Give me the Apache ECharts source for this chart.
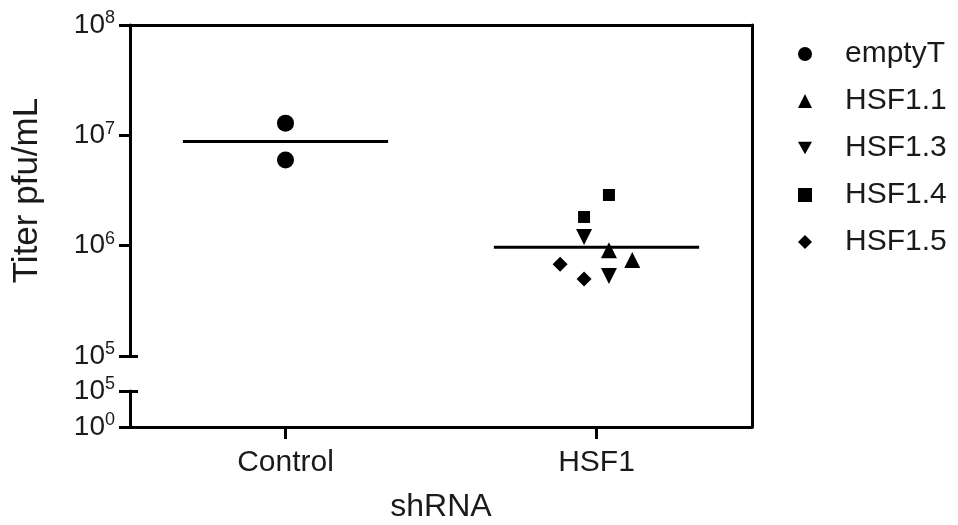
<!DOCTYPE html>
<html>
<head>
<meta charset="utf-8">
<script src="https://cdn.jsdelivr.net/npm/echarts@6/dist/echarts.min.js"></script>
<style>
html,body{margin:0;padding:0;background:#fff;}
#main{width:958px;height:525px;}
</style>
</head>
<body>
<div id="main"></div>
<script>
// categories and values
var groups = ['Control', 'HSF1'];
var emptyT = [1.29e7, 5.98e6];
var hsf11 = [9.1e5, 7.4e5];
var hsf13 = [1.2e6, 5.3e5];
var hsf14 = [2.88e6, 1.82e6];
var hsf15 = [6.8e5, 5.0e5];
var centerLine = [8.8e6, 9.7e5];   // horizontal line per group
var yTicks = [1e5, 1e6, 1e7, 1e8];
var yTicksLow = [1, 1e5];

// horizontal scatter of the points inside a group (axis units)
var jitter = {
    emptyT: [0, 0],
    hsf11: [0.04, 0.115],
    hsf13: [-0.04, 0.04],
    hsf14: [0.04, -0.04],
    hsf15: [-0.117, -0.04]
};
var lineHalf = 0.33;

var FONT = "'Liberation Sans', Arial, sans-serif";
var INK = '#1a1a1a';

function powLabel(v){
    var e = Math.round(Math.log10(v));
    return '{b|10}{s|' + e + '}';
}
var powRich = {
    b: {fontSize: 28, color: INK, fontFamily: FONT},
    s: {fontSize: 18, color: INK, fontFamily: FONT, padding: [0, 0, 13, 0]}
};

function pts(vals, jit, g){
    var out = [];
    for (var i = 0; i < vals.length; i++) out.push([g + 0.5 + jit[i], vals[i]]);
    return out;
}

var myChart = echarts.init(document.getElementById('main'));
var option = {
    animation: false,
    textStyle: {fontFamily: FONT},
    grid: [
        {left: 130, top: 25, width: 622, height: 331, outerBoundsMode: 'none'},
        {left: 130, top: 391, width: 622, height: 36, outerBoundsMode: 'none'},
        {left: 130, top: 25, width: 622, height: 402, outerBoundsMode: 'none'}
    ],
    legend: {
        orient: 'vertical',
        left: 793,
        top: 34,
        itemWidth: 14,
        itemHeight: 14,
        itemGap: 17,
        textStyle: {fontSize: 30, color: INK, fontFamily: FONT, padding: [0, 0, 0, 28]},
        data: ['emptyT', 'HSF1.1', 'HSF1.3', 'HSF1.4', 'HSF1.5']
    },
    xAxis: [
        {
            gridIndex: 0, type: 'value', min: 0, max: 2, position: 'top',
            axisLine: {show: true, onZero: false, lineStyle: {color: '#000', width: 3}},
            axisTick: {show: false}, axisLabel: {show: false}, splitLine: {show: false}
        },
        {
            gridIndex: 1, type: 'category', data: groups, position: 'bottom',
            axisLine: {show: true, onZero: false, lineStyle: {color: '#000', width: 3}},
            axisTick: {show: true, alignWithLabel: true, length: 12, lineStyle: {color: '#000', width: 3}},
            axisLabel: {fontSize: 30, color: INK, margin: 21, fontFamily: FONT},
            splitLine: {show: false},
            name: 'shRNA', nameLocation: 'middle', nameGap: 64,
            nameTextStyle: {fontSize: 32, color: INK, fontFamily: FONT}
        },
        {gridIndex: 2, type: 'value', min: 0, max: 2, show: false}
    ],
    yAxis: [
        {
            gridIndex: 0, type: 'log', logBase: 10, min: 1e5, max: 1e8, position: 'left',
            axisLine: {show: true, onZero: false, lineStyle: {color: '#000', width: 3}},
            axisTick: {show: true, length: 11, customValues: yTicks, lineStyle: {color: '#000', width: 3}},
            axisLabel: {customValues: yTicks, formatter: powLabel, rich: powRich, margin: 15},
            splitLine: {show: false}, minorTick: {show: false},
            name: 'Titer pfu/mL', nameLocation: 'middle', nameGap: 85,
            nameTextStyle: {fontSize: 35, color: INK, fontFamily: FONT}
        },
        {
            gridIndex: 0, type: 'log', logBase: 10, min: 1e5, max: 1e8, position: 'left',
            axisLine: {show: false, onZero: false},
            axisTick: {show: true, inside: true, length: 8, customValues: [1e5], lineStyle: {color: '#000', width: 3}},
            axisLabel: {show: false}, splitLine: {show: false}
        },
        {
            gridIndex: 1, type: 'log', logBase: 10, min: 1, max: 1e5, position: 'left',
            axisLine: {show: true, onZero: false, lineStyle: {color: '#000', width: 3}},
            axisTick: {show: true, length: 11, customValues: yTicksLow, lineStyle: {color: '#000', width: 3}},
            axisLabel: {customValues: yTicksLow, formatter: powLabel, rich: powRich, margin: 15},
            splitLine: {show: false}
        },
        {
            gridIndex: 1, type: 'log', logBase: 10, min: 1, max: 1e5, position: 'left',
            axisLine: {show: false, onZero: false},
            axisTick: {show: true, inside: true, length: 8, customValues: [1e5], lineStyle: {color: '#000', width: 3}},
            axisLabel: {show: false}, splitLine: {show: false}
        },
        {
            gridIndex: 2, type: 'value', min: 0, max: 1, position: 'right',
            axisLine: {show: true, onZero: false, lineStyle: {color: '#000', width: 3}},
            axisTick: {show: false}, axisLabel: {show: false}, splitLine: {show: false}
        }
    ],
    series: []
};

for (var g = 0; g < groups.length; g++) {
    option.series.push({
        type: 'line', xAxisIndex: 0, yAxisIndex: 0, symbol: 'none', silent: true,
        lineStyle: {color: '#000', width: 3},
        data: [[g + 0.5 - lineHalf, centerLine[g]], [g + 0.5 + lineHalf, centerLine[g]]]
    });
}

var dots = [
    {name: 'emptyT', vals: emptyT, jit: jitter.emptyT, g: 0, symbol: 'circle', size: 17},
    {name: 'HSF1.1', vals: hsf11, jit: jitter.hsf11, g: 1, symbol: 'triangle', size: 16},
    {name: 'HSF1.3', vals: hsf13, jit: jitter.hsf13, g: 1, symbol: 'path://M0,0L2,0L1,1.8Z', size: 16},
    {name: 'HSF1.4', vals: hsf14, jit: jitter.hsf14, g: 1, symbol: 'rect', size: 12},
    {name: 'HSF1.5', vals: hsf15, jit: jitter.hsf15, g: 1, symbol: 'diamond', size: 15}
];
for (var i = 0; i < dots.length; i++) {
    option.series.push({
        name: dots[i].name, type: 'scatter', xAxisIndex: 0, yAxisIndex: 0,
        symbol: dots[i].symbol, symbolSize: dots[i].size,
        itemStyle: {color: '#000', opacity: 1},
        data: pts(dots[i].vals, dots[i].jit, dots[i].g)
    });
}

myChart.setOption(option);
</script>
</body>
</html>
